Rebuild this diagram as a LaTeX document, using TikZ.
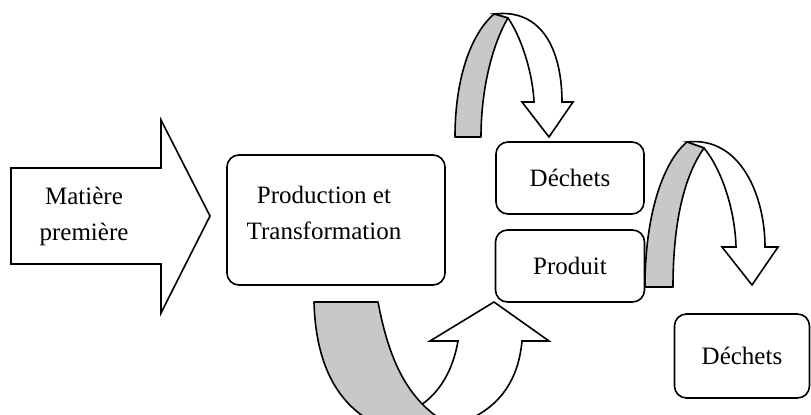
\documentclass[tikz,border=0pt]{standalone}
\usepackage{fontspec}
\setmainfont{Liberation Serif}
\usetikzlibrary{calc}
\definecolor{bandgray}{RGB}{200,200,200}
\tikzset{
  box/.style={draw,rounded corners=6pt,line width=0.8pt,inner sep=0pt,font=\fontsize{12.5}{18}\selectfont},
  lbl/.style={align=center,inner sep=0pt,font=\fontsize{12.5}{18}\selectfont},
  back/.style={draw,fill=bandgray,line width=0.8pt,line join=round},
  front/.style={draw,fill=white,line width=0.8pt,line join=miter},
}
\begin{document}
\begin{tikzpicture}[x=0.5pt,y=-0.5pt]
  \useasboundingbox (0,0) rectangle (811,414);
  \clip (0,0) rectangle (811,414);
  \draw[front] (11,168) -- (161,168) -- (161,120) -- (210,216) -- (161,313) -- (161,264) -- (11,264) -- cycle;
  \node[lbl] (matiere) at (84,216) {Matière\\première};
  \node[box,minimum width=109pt,minimum height=65pt] (prod) at (336,220) {};
  \node[lbl] (prodtxt) at (324,213) {Production et\\Transformation};
  \node[box,minimum width=74pt,minimum height=36pt] (dechA) at (570,178) {Déchets};
  \node[box,minimum width=74.5pt,minimum height=36pt] (produit) at (570,266) {Produit};
  \node[box,minimum width=67.5pt,minimum height=42pt] (dechB) at (742,356) {Déchets};
  \draw[front] (494,14) .. controls (545,8) and (562,55) .. (562,102) -- (573,102) -- (549,137) -- (522,102) -- (534,102) .. controls (533,75) and (522,38) .. (508,18) -- cycle;
  \draw[back] (455,137) .. controls (455,80) and (470,35) .. (494,14) -- (508,18) .. controls (492,45) and (481,90) .. (481,137) -- cycle;
  \draw[front] (687,142) .. controls (740,136) and (765,195) .. (765,247) -- (778,247) -- (752,285) -- (722,247) -- (736,247) .. controls (735,210) and (722,170) .. (704,148) -- cycle;
  \draw[back] (645,287) .. controls (645,210) and (665,160) .. (687,142) -- (704,148) .. controls (685,175) and (673,220) .. (673,287) -- cycle;
  \draw[front] (421,405) .. controls (440,392) and (453,370) .. (458,341) -- (430,341) -- (494,302) -- (549,341) -- (522,341) .. controls (518,385) and (495,412) .. (455,425) -- (415,425) -- cycle;
  \draw[back] (314,302) -- (378,302) .. controls (388,355) and (405,398) .. (445,422) -- (385,428) .. controls (345,412) and (316,375) .. (314,302) -- cycle;
\end{tikzpicture}
\end{document}
